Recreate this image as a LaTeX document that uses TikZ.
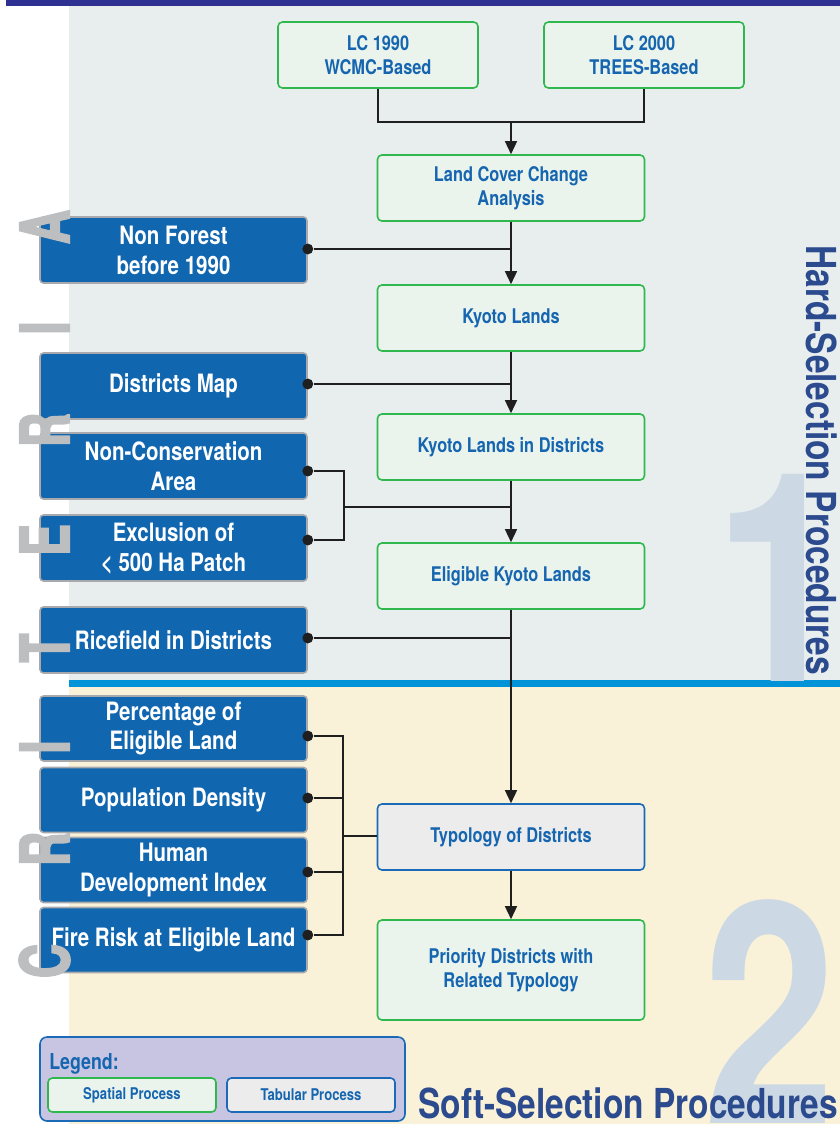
\documentclass[tikz,border=0pt]{standalone}
\usepackage{fontspec}
\setmainfont{TeX Gyre Heros}[FakeStretch=0.81]
\newfontfamily\critfont{TeX Gyre Heros}[FakeStretch=0.7, FakeBold=2.5]
\newfontfamily\numfont{TeX Gyre Heros}[FakeStretch=0.77]
\usepackage{xcolor}
\usepackage{tikz}
\usetikzlibrary{arrows.meta, positioning, calc}
\definecolor{TopBar}{RGB}{46,49,146}
\definecolor{HardBg}{RGB}{232,238,238}
\definecolor{SoftBg}{RGB}{250,242,216}
\definecolor{SplitBlue}{RGB}{0,147,216}
\definecolor{SpatialFill}{RGB}{234,244,236}
\definecolor{SpatialLine}{RGB}{46,184,77}
\definecolor{BoxText}{RGB}{21,101,176}
\definecolor{CritBlue}{RGB}{17,102,176}
\definecolor{CritEdge}{RGB}{167,169,172}
\definecolor{LetterGray}{RGB}{188,190,192}
\definecolor{TabFill}{RGB}{236,236,236}
\definecolor{TabLine}{RGB}{26,106,184}
\definecolor{TitleBlue}{RGB}{44,75,142}
\definecolor{NumBlue}{RGB}{204,217,228}
\definecolor{LegendFill}{RGB}{199,197,225}

\begin{document}
\begin{tikzpicture}[x=0.2mm, y=-0.2mm,
    spatial/.style={draw=SpatialLine, fill=SpatialFill, line width=0.9pt, rounded corners=2.5pt, text=BoxText, align=center, inner sep=0pt, minimum width=5.34cm, minimum height=1.32cm, font=\bfseries\fontsize{11.5}{13.6}\selectfont},
    tabular/.style={spatial, draw=TabLine, fill=TabFill},
    crit/.style={draw=CritEdge, fill=CritBlue, line width=0.9pt, rounded corners=2pt, text=white, align=center, inner sep=0pt, minimum width=5.34cm, minimum height=1.32cm, font=\bfseries\fontsize{14.4}{17}\selectfont},
    link/.style={line width=0.9pt, draw=black!88},
    flow/.style={link, -{Triangle[width=6.8pt,length=7.4pt]}},
    dot/.style={circle, fill=black!88, inner sep=0pt, minimum size=6.2pt},
    letter/.style={text=LetterGray, rotate=90, inner sep=0pt, font=\critfont\bfseries\fontsize{38.6}{40}\selectfont},
    numeral/.style={text=NumBlue, inner sep=0pt, font=\numfont\bfseries\fontsize{176}{176}\selectfont},
    title/.style={text=TitleBlue, inner sep=0pt, font=\bfseries\fontsize{23.5}{26}\selectfont}]
    \useasboundingbox (0,0) rectangle (840,1124);

    % 背景
    \fill[TopBar] (6,0) rectangle (840,6);
    \fill[HardBg] (69,6) rectangle (840,680);
    \fill[SoftBg] (69,687) rectangle (840,1124);
    \fill[SplitBlue] (69,680) rectangle (840,687);
    \begin{scope}
        \clip (69,6) rectangle (840,680);
        \node[numeral, anchor=base west] (one) at (714,693) {1};
    \end{scope}
    \begin{scope}
        \clip (69,687) rectangle (840,1124);
        \node[numeral, anchor=base west] (two) at (703,1123) {2};
    \end{scope}
    \node[title, rotate=-90, anchor=north west] (hard) at (838,245) {Hard-Selection Procedures};
    \node[title, anchor=base east] (soft) at (838,1118) {Soft-Selection Procedures};

    % 空间处理
    \node[spatial, minimum width=4cm] (lc90) at (378,55) {LC 1990\\WCMC-Based};
    \node[spatial, minimum width=4cm] (lc00) at (644,55) {LC 2000\\TREES-Based};
    \node[spatial] (lcca) at (511,188) {Land Cover Change\\Analysis};
    \node[spatial] (kyoto) at (511,318) {Kyoto Lands};
    \node[spatial] (kyodist) at (511,447) {Kyoto Lands in Districts};
    \node[spatial] (elig) at (511,576) {Eligible Kyoto Lands};
    \node[tabular] (typo) at (511,837) {Typology of Districts};
    \node[spatial, minimum height=2cm] (prio) at (511,970) {Priority Districts with\\Related Typology};

    % 准则
    \node[crit] (nonfor) at (173.5,250) {Non Forest\\before 1990};
    \node[crit] (distmap) at (173.5,386) {Districts Map};
    \node[crit] (noncons) at (173.5,466) {Non-Conservation\\Area};
    \node[crit] (excl) at (173.5,548) {Exclusion of\\< 500 Ha Patch};
    \node[crit] (rice) at (173.5,640) {Ricefield in Districts};
    \node[crit, minimum height=1.3cm] (pct) at (173.5,728.5) {Percentage of\\Eligible Land};
    \node[crit, minimum height=1.3cm] (popden) at (173.5,800) {Population Density};
    \node[crit, minimum height=1.3cm] (hdi) at (173.5,870) {Human\\Development Index};
    \node[crit, minimum height=1.3cm] (fire) at (173.5,940) {Fire Risk at Eligible Land};

    % CRITERIA
    \node[letter] (lA) at (44.5,227) {A};
    \node[letter] (lI1) at (44.5,328) {I};
    \node[letter] (lR1) at (44.5,430) {R};
    \node[letter] (lE) at (44.5,540) {E};
    \node[letter] (lT) at (44.5,648) {T};
    \node[letter] (lI2) at (44.5,747) {I};
    \node[letter] (lR2) at (44.5,849) {R};
    \node[letter] (lC) at (44.5,961) {C};

    % 连接点
    \node[dot] (dnf) at ($(nonfor.east)+(0,-1)$) {};
    \node[dot] (ddm) at ($(distmap.east)+(0,-2)$) {};
    \node[dot] (dnc) at ($(noncons.east)+(0,5)$) {};
    \node[dot] (dex) at ($(excl.east)+(0,-8)$) {};
    \node[dot] (drf) at ($(rice.east)+(0,-2)$) {};
    \node[dot] (dpc) at ($(pct.east)+(0,7.5)$) {};
    \node[dot] (dpd) at ($(popden.east)+(0,-2)$) {};
    \node[dot] (dhd) at ($(hdi.east)+(0,2)$) {};
    \node[dot] (dfr) at ($(fire.east)+(0,-5)$) {};
    \coordinate (jtop) at (511,122);
    \coordinate (bra1) at (344,507);
    \coordinate (bra2) at (343,836);

    % 流程
    \draw[link] (lc90.south) |- (jtop) -| (lc00.south);
    \draw[flow] (jtop) -- (lcca.north);
    \draw[flow] (lcca) -- (kyoto);
    \draw[flow] (kyoto) -- (kyodist);
    \draw[flow] (kyodist) -- (elig);
    \draw[flow] (elig) -- (typo);
    \draw[flow] (typo) -- (prio);
    \draw[link] (dnf) -- (dnf -| lcca.south);
    \draw[link] (ddm) -- (ddm -| kyoto.south);
    \draw[link] (dnc) -| (bra1) |- (dex);
    \draw[link] (bra1) -- (bra1 -| kyodist.south);
    \draw[link] (drf) -- (drf -| elig.south);
    \draw[link] (dpc) -| (bra2) |- (dfr);
    \draw[link] (dpd) -- (dpd -| bra2);
    \draw[link] (dhd) -- (dhd -| bra2);
    \draw[link] (bra2) -- (bra2 -| typo.west);

    % 图例
    \node[draw=TabLine, fill=LegendFill, line width=0.9pt, rounded corners=4pt, inner sep=0pt, minimum width=7.3cm, minimum height=1.68cm] (legend) at (222.5,1079) {};
    \node[anchor=base west, text=BoxText, inner sep=0pt, font=\bfseries\fontsize{12.5}{14}\selectfont] (legtitle) at (49,1069) {Legend:};
    \node[spatial, minimum width=3.36cm, minimum height=0.68cm, font=\bfseries\fontsize{9.2}{10}\selectfont] (legsp) at (132,1095) {Spatial Process};
    \node[tabular, minimum width=3.36cm, minimum height=0.68cm, font=\bfseries\fontsize{9.2}{10}\selectfont] (legtab) at (311,1095) {Tabular Process};
\end{tikzpicture}
\end{document}
